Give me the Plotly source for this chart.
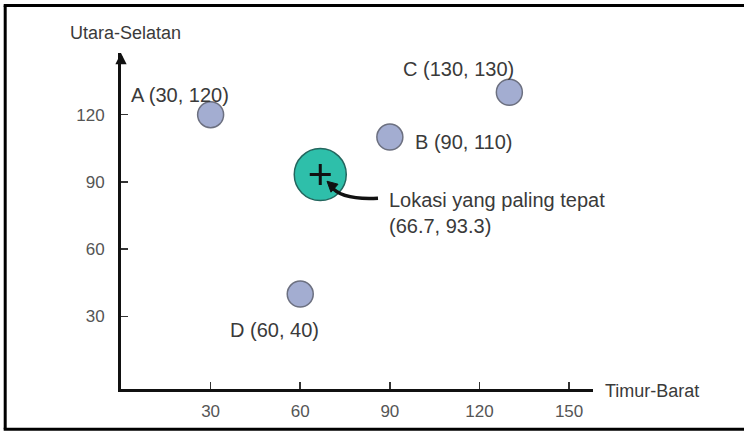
import plotly.graph_objects as go

# ---------------- data ----------------
point_names = ["A", "B", "C", "D"]
east_west = [30, 90, 130, 60]
north_south = [120, 110, 130, 40]
best_name = "Lokasi yang paling tepat"
best_x = [66.7]
best_y = [93.3]
x_ticks = [30, 60, 90, 120, 150]
y_ticks = [30, 60, 90, 120]
x_title = "Timur-Barat"
y_title = "Utara-Selatan"

# ---------------- layout geometry (pixels) ----------------
W, H = 744, 433
L, R, T, B = 121, 593, 53, 391
X_RANGE = [0, 158]
Y_RANGE = [-2.35, 147.5]


def px(xp):
    return (xp - L) / (R - L)


def py(yp):
    return (B - yp) / (B - T)


FONT = "Liberation Sans, Arial, Helvetica, sans-serif"
TXT = "#3a3a3a"

fig = go.Figure()

fig.add_trace(go.Scatter(
    x=east_west, y=north_south, mode="markers",
    marker=dict(size=26, color="#a3add1", line=dict(color="#6c7080", width=1.5)),
    hoverinfo="skip", showlegend=False,
))
fig.add_trace(go.Scatter(
    x=best_x, y=best_y, mode="markers",
    marker=dict(size=52, color="#2ebfaa", line=dict(color="#23665e", width=1.5)),
    hoverinfo="skip", showlegend=False,
))
fig.add_trace(go.Scatter(
    x=best_x, y=best_y, mode="markers",
    marker=dict(symbol="cross-thin", size=15, line=dict(color="#111111", width=3)),
    hoverinfo="skip", showlegend=False,
))

# point labels (offsets in pixels relative to each point)
label_offsets = {"A": (-31, 20, "center"), "B": (23, -5, "left"),
                 "C": (-51, 23.5, "center"), "D": (-26, -35.5, "center")}
for n, xv, yv in zip(point_names, east_west, north_south):
    dx, dy, anc = label_offsets[n]
    fig.add_annotation(x=xv, y=yv, xref="x", yref="y",
                       text=f"{n} ({xv}, {yv})", showarrow=False,
                       xshift=dx, yshift=dy, xanchor=anc, yanchor="middle",
                       font=dict(family=FONT, size=20, color=TXT))

# best location label
fig.add_annotation(x=best_x[0], y=best_y[0], xref="x", yref="y",
                   text=f"{best_name}<br>({best_x[0]}, {best_y[0]})",
                   showarrow=False, align="left", xanchor="left", yanchor="middle",
                   xshift=387 - 320.2, yshift=-(214 - 175.3),
                   font=dict(family=FONT, size=20, color=TXT))

# curved pointer from label to the best location
p0 = (331, 187)
c0 = (341, 201)
p1 = (378, 199)
fig.add_shape(type="path", xref="paper", yref="paper",
              path=f"M {px(p0[0])},{py(p0[1])} Q {px(c0[0])},{py(c0[1])} {px(p1[0])},{py(p1[1])}",
              line=dict(color="#111111", width=3.5))
tri = [(327, 182), (338, 185), (331, 193)]
fig.add_shape(type="path", xref="paper", yref="paper",
              path="M " + " L ".join(f"{px(a)},{py(b)}" for a, b in tri) + " Z",
              fillcolor="#111111", line=dict(color="#111111", width=1))

# axis arrowheads
fig.add_annotation(x=0, y=Y_RANGE[1], xref="x", yref="y", ax=0, ay=12,
                   text="", showarrow=True, arrowhead=2, arrowsize=0.9,
                   arrowwidth=2.5, arrowcolor="#111111")
fig.add_annotation(x=X_RANGE[1] + 0.8, y=Y_RANGE[0], xref="x", yref="y", ax=-12, ay=0,
                   text="", showarrow=True, arrowhead=2, arrowsize=0.9,
                   arrowwidth=2.5, arrowcolor="#111111")

# axis titles
fig.add_annotation(x=px(125), y=py(33), xref="paper", yref="paper", text=y_title,
                   showarrow=False, xanchor="center", yanchor="middle",
                   font=dict(family=FONT, size=18, color=TXT))
fig.add_annotation(x=px(603), y=py(393), xref="paper", yref="paper", text=x_title,
                   showarrow=False, xanchor="left", yanchor="middle",
                   font=dict(family=FONT, size=18, color=TXT))

# document frame (left, top, bottom lines)
for (x0, y0, x1, y1) in [(5.2, 5.3, 5.2, 431.5), (3.7, 5.3, 760, 5.3), (3.7, 431.5, 760, 431.5)]:
    fig.add_shape(type="line", xref="paper", yref="paper",
                  x0=px(x0), y0=py(y0), x1=px(x1), y1=py(y1),
                  line=dict(color="#000000", width=3))

fig.update_layout(
    width=W, height=H,
    margin=dict(l=L, r=W - R, t=T, b=H - B, pad=0),
    paper_bgcolor="white", plot_bgcolor="white",
    showlegend=False,
    xaxis=dict(range=X_RANGE, tickvals=x_ticks, showgrid=False, zeroline=False,
               showline=True, linewidth=3, linecolor="#111111",
               ticks="inside", ticklen=7, tickwidth=1.5, tickcolor="#333333",
               ticklabelstandoff=5,
               tickfont=dict(family=FONT, size=17, color="#555555")),
    yaxis=dict(range=Y_RANGE, tickvals=y_ticks, showgrid=False, zeroline=False,
               showline=True, linewidth=3, linecolor="#111111",
               ticks="inside", ticklen=7, tickwidth=1.5, tickcolor="#333333",
               ticklabelstandoff=10,
               tickfont=dict(family=FONT, size=17, color="#555555")),
)

fig.write_html(
    "out.html",
    config={"displayModeBar": False, "staticPlot": True},
    post_script="document.body.style.margin='0';document.body.style.overflow='hidden';",
)
